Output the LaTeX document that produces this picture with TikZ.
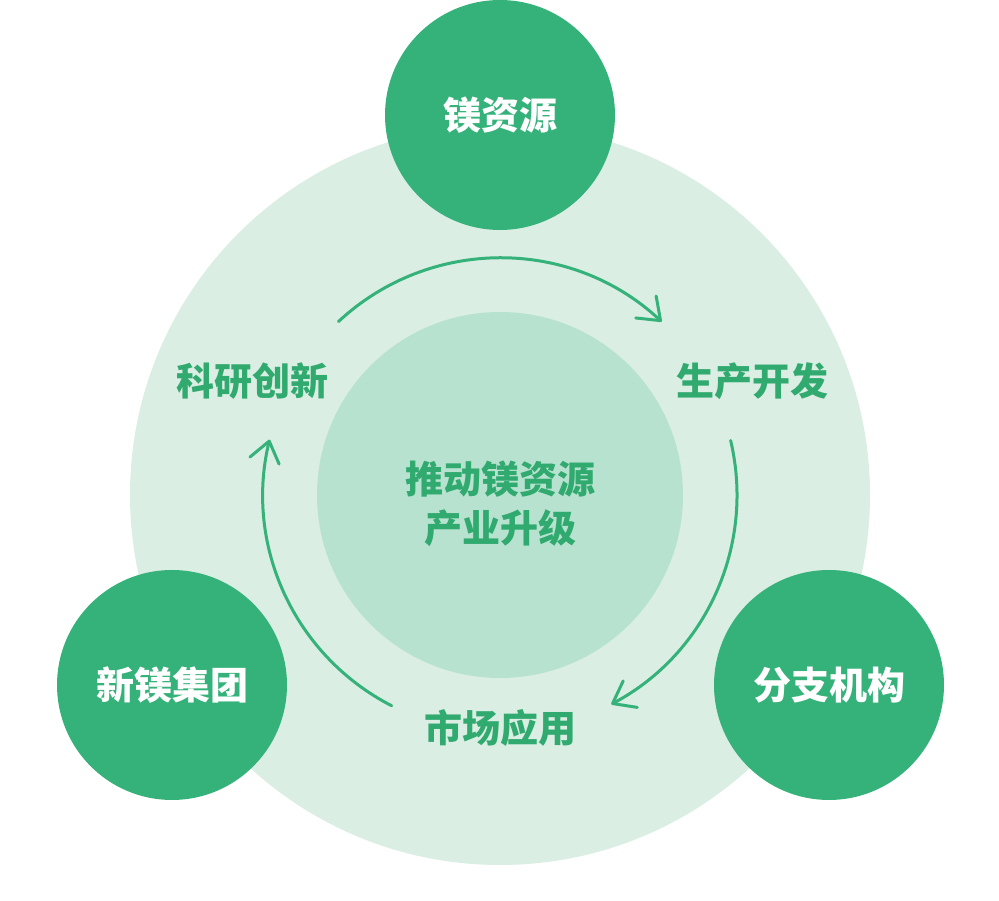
\documentclass[tikz,border=0pt]{standalone}
\usepackage{fontspec}
\newfontfamily\cjk{Noto Sans CJK SC}
\usetikzlibrary{arrows.meta}
\definecolor{darkg}{HTML}{35B27A}
\definecolor{lightg}{HTML}{DAEEE3}
\definecolor{midg}{HTML}{B7E2CF}
\definecolor{textg}{HTML}{30AA6F}
\tikzset{
  bigcirc/.style={circle, fill=darkg, minimum size=230pt, inner sep=0pt, text=white, font=\cjk\bfseries\fontsize{38pt}{46pt}\selectfont},
  lbl/.style={text=textg, font=\cjk\bfseries\fontsize{38pt}{49pt}\selectfont, align=center, inner sep=0pt},
  cyc/.style={draw=darkg, line width=3pt, line cap=round, -{Straight Barb[length=20pt, width=30pt, round]}}
}
\begin{document}
\begin{tikzpicture}[x=1pt,y=1pt]
\useasboundingbox (0,0) rectangle (999,901);
\coordinate (C) at (500,406);
\fill[lightg] (C) circle[radius=370];
\fill[midg] (C) circle[radius=183];
\node[bigcirc] (top) at (500,786) {镁资源};
\node[bigcirc] (bl) at (172,216) {新镁集团};
\node[bigcirc] (br) at (829,216) {分支机构};
\node[lbl] (center) at (500,397) {推动镁资源\\产业升级};
\node[lbl] (kyc) at (252,520) {科研创新};
\node[lbl] (sckf) at (752,520) {生产开发};
\node[lbl] (scyy) at (500,173) {市场应用};
\draw[cyc] (C) ++(133:237) arc[start angle=133, end angle=47, radius=237];
\draw[cyc] (C) ++(13.3:237) arc[start angle=13.3, end angle=-62, radius=237];
\draw[cyc] (C) ++(242.8:237) arc[start angle=242.8, end angle=166.5, radius=237];
\end{tikzpicture}
\end{document}
